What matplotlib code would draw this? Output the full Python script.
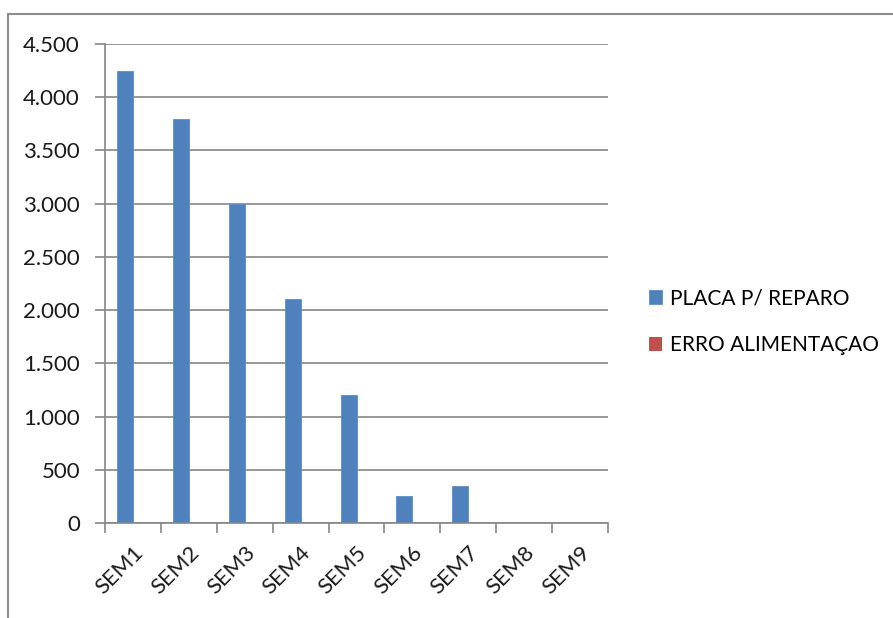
import matplotlib
matplotlib.use("Agg")
import matplotlib.pyplot as plt
import matplotlib.ticker as mticker
from matplotlib.patches import Rectangle
import numpy as np

# weekly counts per failure type
semanas = ["SEM1", "SEM2", "SEM3", "SEM4", "SEM5", "SEM6", "SEM7", "SEM8", "SEM9"]
placa_reparo = [4250, 3800, 3000, 2100, 1200, 250, 350, 0, 0]
erro_alimentacao = [0, 0, 0, 0, 0, 0, 0, 0, 0]

azul = "#4F81BD"
vermelho = "#C0504D"
cinza = "#868686"

plt.rcParams["font.family"] = ["Lato", "DejaVu Sans"]

fig = plt.figure(figsize=(8.93, 6.18), dpi=100)
ax = fig.add_axes([105 / 893, 1 - 523 / 618, 503 / 893, 479 / 618])

# chart area border
fig.patches.append(Rectangle((8 / 893, -0.1), 1.2, 1 - 14 / 618 + 0.1,
                             transform=fig.transFigure, fill=False,
                             edgecolor="#8c8c8c", linewidth=1.5))

x = np.arange(len(semanas))
largura = 1 / 3.5
ax.bar(x - largura / 2, placa_reparo, width=largura, color=azul,
       edgecolor="#5B8CC6", linewidth=0.6, label="PLACA P/ REPARO")
ax.bar(x + largura / 2, erro_alimentacao, width=largura, color=vermelho,
       label="ERRO ALIMENTAÇAO")

ax.set_xlim(-0.5, len(semanas) - 0.5)
ax.set_ylim(0, 4500)
ax.yaxis.set_major_locator(mticker.MultipleLocator(500))
ax.yaxis.set_major_formatter(
    mticker.FuncFormatter(lambda v, p: f"{int(v):,}".replace(",", ".")))
ax.grid(axis="y", color=cinza, linewidth=1.2)
ax.set_axisbelow(True)

for lado in ["top", "right"]:
    ax.spines[lado].set_visible(False)
for lado in ["left", "bottom"]:
    ax.spines[lado].set_color(cinza)
    ax.spines[lado].set_linewidth(1.2)

# category ticks sit between the groups
ax.set_xticks(np.arange(len(semanas) + 1) - 0.5)
ax.set_xticklabels([])
ax.set_xticks(x, minor=True)
ax.set_xticklabels(semanas, minor=True, rotation=45, ha="right",
                   rotation_mode="anchor", fontsize=16, color="#1a1a1a")
ax.tick_params(axis="x", which="major", length=7, color=cinza, width=1.2)
ax.tick_params(axis="x", which="minor", length=0, pad=14)
ax.tick_params(axis="y", length=7, color=cinza, width=1.2, labelsize=16,
               labelcolor="#1a1a1a", pad=11)

ax.legend(loc="center left", bbox_to_anchor=(1.045, 0.42), frameon=False,
          fontsize=15, handlelength=0.6, handleheight=0.6, handletextpad=0.4,
          labelspacing=1.3)

fig.savefig("out.png", dpi=100)
